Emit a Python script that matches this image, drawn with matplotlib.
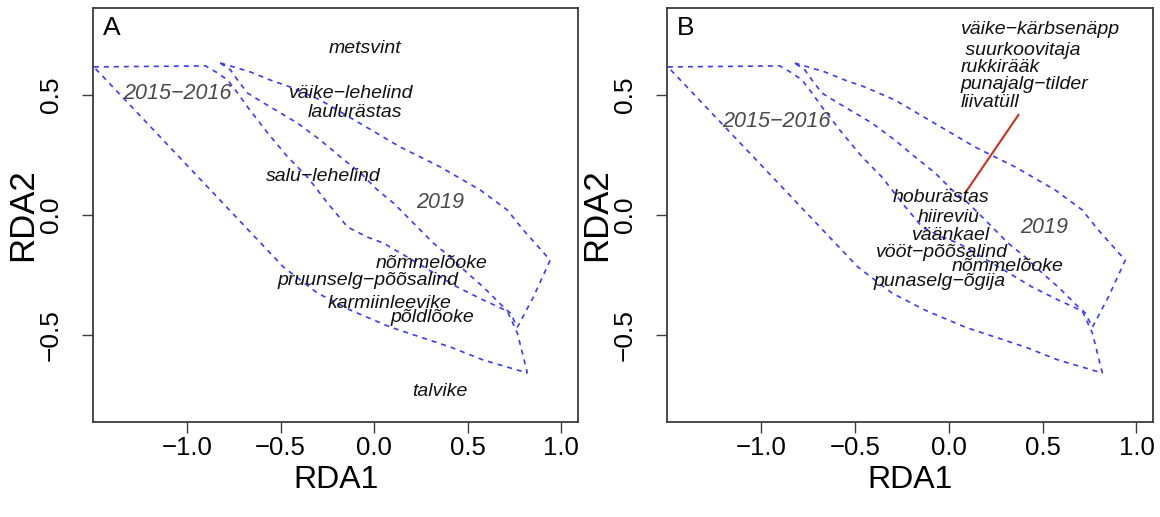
import matplotlib
matplotlib.use("Agg")
import matplotlib.pyplot as plt
from matplotlib.patches import Polygon

# Convex-hull outlines of the site groups in RDA1/RDA2 space
hull_2015_2016_x = [-1.497, -0.900, -0.837, -0.782, -0.729, -0.676, -0.569, -0.462,
                    -0.356, -0.249, -0.142, -0.036, 0.050, 0.231, 0.444, 0.583,
                    0.711, 0.765, 0.818, 0.583, 0.407, 0.087, -0.127, -0.303, -0.484]
hull_2015_2016_y = [0.617, 0.621, 0.592, 0.562, 0.508, 0.450, 0.342, 0.242,
                    0.158, 0.050, -0.050, -0.092, -0.117, -0.200, -0.300, -0.354,
                    -0.400, -0.492, -0.658, -0.604, -0.550, -0.467, -0.396, -0.325, -0.217]

hull_2019_x = [-0.821, -0.751, -0.661, -0.554, -0.447, -0.287, -0.089, 0.140,
               0.354, 0.567, 0.711, 0.796, 0.940, 0.850, 0.765, 0.727, 0.690,
               0.583, 0.498, 0.407, 0.316, 0.194, 0.103, 0.018, -0.073, -0.180,
               -0.287, -0.410, -0.500, -0.591, -0.676, -0.729, -0.767]
hull_2019_y = [0.633, 0.617, 0.596, 0.562, 0.533, 0.479, 0.388, 0.283,
               0.200, 0.104, 0.021, -0.062, -0.188, -0.342, -0.467, -0.408, -0.383,
               -0.300, -0.242, -0.175, -0.117, -0.021, 0.050, 0.104, 0.175, 0.242,
               0.312, 0.383, 0.425, 0.467, 0.508, 0.562, 0.604]

# Group labels
years = ["2015\u22122016", "2019"]
years_a_x = [-1.051, 0.354]
years_a_y = [0.507, 0.051]
years_b_x = [-0.919, 0.507]
years_b_y = [0.389, -0.051]

# Panel A species
species_a = ["metsvint", "väike\u2212lehelind", "laulurästas", "salu\u2212lehelind",
             "nõmmelõoke", "pruunselg\u2212põõsalind", "karmiinleevike",
             "põldlõoke", "talvike"]
species_a_x = [-0.050, -0.121, -0.100, -0.273, 0.309, -0.032, 0.082, 0.309, 0.349]
species_a_y = [0.692, 0.508, 0.425, 0.162, -0.204, -0.274, -0.368, -0.426, -0.736]

# Panel B species (centred labels)
species_b = ["hoburästas", "hiireviu", "väänkael", "vööt\u2212põõsalind",
             "nõmmelõoke", "punaselg\u2212õgija"]
species_b_x = [-0.043, 0.000, 0.013, -0.035, 0.312, -0.050]
species_b_y = [0.074, -0.010, -0.086, -0.157, -0.215, -0.275]

# Panel B species sharing one position, listed beside it
stacked_b = ["väike\u2212kärbsenäpp", " suurkoovitaja", "rukkirääk",
             "punajalg\u2212tilder", "liivatüll"]
stacked_b_x = 0.062
stacked_b_y = [0.774, 0.687, 0.615, 0.542, 0.468]
leader_x = [0.371, 0.087]
leader_y = [0.417, 0.092]

x_ticks = [-1.0, -0.5, 0.0, 0.5, 1.0]
y_ticks = [-0.5, 0.0, 0.5]
x_lim = (-1.50, 1.09)
y_lim = (-0.861, 0.861)

plain = ["Liberation Sans", "DejaVu Sans"]
hull_color = "#3a3aff"
frame_color = "#3c3c3c"

fig = plt.figure(figsize=(11.6, 5.17), dpi=100)
ax_a = fig.add_axes([0.0804, 0.1843, 0.4181, 0.7996])
ax_b = fig.add_axes([0.5753, 0.1843, 0.4190, 0.7996])


def fmt(v):
    return f"{v:.1f}".replace("-", "\u2212")


def draw_base(ax, letter, yx, yy):
    for hx, hy in ((hull_2015_2016_x, hull_2015_2016_y), (hull_2019_x, hull_2019_y)):
        poly = Polygon(list(zip(hx, hy)), closed=True, fill=False,
                       edgecolor=hull_color, linewidth=1.2,
                       linestyle=(0, (3, 3)))
        ax.add_patch(poly)
    for lab, x, y in zip(years, yx, yy):
        ax.text(x, y, lab, ha="center", va="center", style="italic",
                fontsize=15.5, color="#4a4a4a", family=plain)
    ax.set_xlim(*x_lim)
    ax.set_ylim(*y_lim)
    ax.set_xticks(x_ticks)
    ax.set_yticks(y_ticks)
    ax.set_xticklabels([fmt(v) for v in x_ticks], family=plain, fontsize=18.5)
    ax.set_yticklabels([fmt(v) for v in y_ticks], family=plain, fontsize=19,
                       rotation=90, va="center", ha="right")
    ax.tick_params(axis="x", length=8, width=1.0, color=frame_color, pad=2)
    ax.tick_params(axis="y", length=8, width=1.0, color=frame_color, pad=14)
    for sp in ax.spines.values():
        sp.set_color(frame_color)
        sp.set_linewidth(1.3)
    ax.set_xlabel("RDA1", family=plain, fontsize=23)
    ax.set_ylabel("RDA2", family=plain, fontsize=25)
    ax.xaxis.set_label_coords(0.5, -0.141)
    ax.xaxis.label.set_va("center")
    ax.yaxis.set_label_coords(-0.145, 0.5)
    ax.yaxis.label.set_va("center")
    ax.text(0.019, 0.952, letter, transform=ax.transAxes, ha="left", va="center",
            fontsize=19, family=plain, color="black")


draw_base(ax_a, "A", years_a_x, years_a_y)
for lab, x, y in zip(species_a, species_a_x, species_a_y):
    ax_a.text(x, y, lab, ha="center", va="center", style="italic",
              fontsize=14, color="#111111", family=plain)

draw_base(ax_b, "B", years_b_x, years_b_y)
ax_b.plot(leader_x, leader_y, color="#c8321e", linewidth=1.5)
for lab, x, y in zip(species_b, species_b_x, species_b_y):
    ax_b.text(x, y, lab, ha="center", va="center", style="italic",
              fontsize=14, color="#111111", family=plain)
for lab, y in zip(stacked_b, stacked_b_y):
    ax_b.text(stacked_b_x, y, lab, ha="left", va="center", style="italic",
              fontsize=14, color="#111111", family=plain)

fig.savefig("out.png", dpi=100)
